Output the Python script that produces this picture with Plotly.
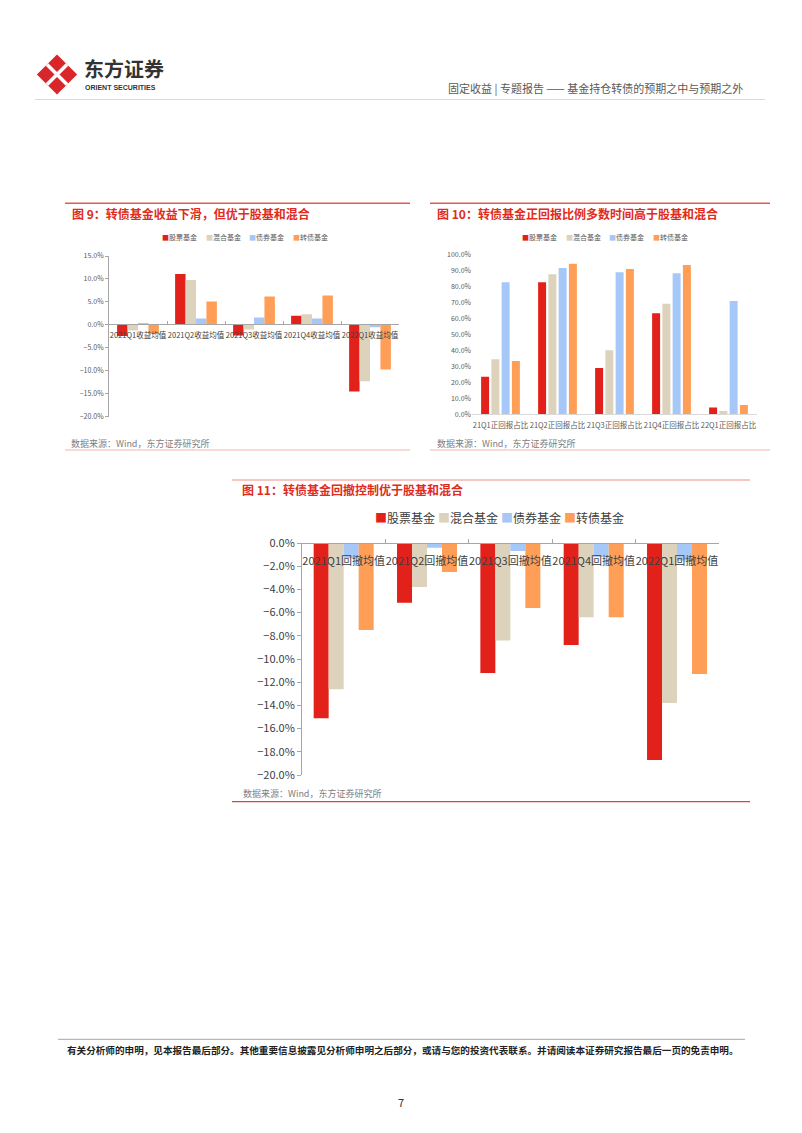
import plotly.graph_objects as go

W, H = 802, 1133
FONT = "Noto Sans CJK SC"


def px(x):
    return x / W


def py(y):
    return 1 - y / H


# ---------------- data ----------------
series = ["股票基金", "混合基金", "债券基金", "转债基金"]
colors = ["#E3211B", "#DDD3BD", "#A6C8F8", "#FF9E57"]

cats9 = ["2021Q1收益均值", "2021Q2收益均值", "2021Q3收益均值", "2021Q4收益均值", "2022Q1收益均值"]
stock9 = [-2.4, 11.1, -2.3, 2.0, -14.5]
mixed9 = [-1.2, 9.8, -1.0, 2.3, -12.3]
bond9 = [0.3, 1.4, 1.6, 1.4, -0.5]
cb9 = [-2.0, 5.1, 6.2, 6.4, -9.7]

cats10 = ["21Q1正回报占比", "21Q2正回报占比", "21Q3正回报占比", "21Q4正回报占比", "22Q1正回报占比"]
stock10 = [23.6, 82.9, 29.1, 63.4, 4.2]
mixed10 = [34.5, 87.9, 40.2, 69.4, 2.1]
bond10 = [82.9, 91.8, 89.1, 88.5, 71.1]
cb10 = [33.5, 94.5, 91.2, 93.7, 5.8]

cats11 = ["2021Q1回撤均值", "2021Q2回撤均值", "2021Q3回撤均值", "2021Q4回撤均值", "2022Q1回撤均值"]
stock11 = [-15.1, -5.15, -11.2, -8.8, -18.7]
mixed11 = [-12.6, -3.8, -8.4, -6.4, -13.8]
bond11 = [-1.3, -0.4, -0.7, -1.2, -1.5]
cb11 = [-7.5, -2.5, -5.6, -6.4, -11.3]

title9 = "图 9：转债基金收益下滑，但优于股基和混合"
title10 = "图 10：转债基金正回报比例多数时间高于股基和混合"
title11 = "图 11：转债基金回撤控制优于股基和混合"
source = "数据来源：Wind，东方证券研究所"
header_right = "固定收益 | 专题报告 —— 基金持仓转债的预期之中与预期之外"
footer = "有关分析师的申明，见本报告最后部分。其他重要信息披露见分析师申明之后部分，或请与您的投资代表联系。并请阅读本证券研究报告最后一页的免责申明。"

fig = go.Figure()


def add_bars(vals_list, cats, xa, ya, offsets=None, width=None):
    for i, (name, vals) in enumerate(zip(series, vals_list)):
        kw = {}
        if offsets is not None:
            kw = dict(offset=offsets[i], width=width)
        fig.add_trace(go.Bar(x=cats, y=vals, name=name,
                             marker=dict(color=colors[i], line=dict(width=0)),
                             xaxis=xa, yaxis=ya, showlegend=False, **kw))


add_bars([stock9, mixed9, bond9, cb9], cats9, "x", "y")
add_bars([stock10, mixed10, bond10, cb10], cats10, "x2", "y2",
         offsets=[-0.34, -0.16, 0.02, 0.20], width=0.14)
add_bars([stock11, mixed11, bond11, cb11], cats11, "x3", "y3")

axis_gray = "#A6A6A6"

layout = dict(
    width=W, height=H, autosize=False,
    margin=dict(l=0, r=0, t=0, b=0, pad=0),
    template="none",
    paper_bgcolor="white", plot_bgcolor="rgba(0,0,0,0)",
    font=dict(family=FONT, color="#404040"),
    barmode="group", bargap=0.28, bargroupgap=0.0,
    showlegend=False,
    # chart 9
    xaxis=dict(domain=[px(109), px(399)], anchor="free", position=py(324.3),
               type="category", showline=True, linecolor=axis_gray, linewidth=1,
               ticks="inside", ticklen=3, tickcolor=axis_gray, tickson="boundaries",
               tickangle=0, ticklabelstandoff=4,
               tickfont=dict(size=7.5, color="#404040"), showgrid=False,
               zeroline=False, automargin=False, fixedrange=True),
    yaxis=dict(domain=[py(416.7), py(256)], anchor="x", range=[-20, 15], dtick=5,
               tickformat=".1f", ticksuffix="%", showline=True, linecolor=axis_gray,
               ticks="outside", ticklen=3, tickcolor=axis_gray,
               tickfont=dict(size=7, color="#595959"), showgrid=False,
               zeroline=False, automargin=False),
    # chart 10
    xaxis2=dict(domain=[px(472), px(757)], anchor="y2", type="category",
                showline=True, linecolor="#D9D9D9", linewidth=1, ticks="",
                tickangle=0, ticklabelstandoff=4,
                tickfont=dict(size=7.5, color="#595959"), showgrid=False,
                zeroline=False, automargin=False),
    yaxis2=dict(domain=[py(414.3), py(255)], anchor="x2", range=[0, 100], dtick=10,
                tickformat=".1f", ticksuffix="%", showline=False, ticks="",
                tickfont=dict(size=7, color="#595959"), showgrid=False,
                zeroline=False, automargin=False),
    # chart 11
    xaxis3=dict(domain=[px(302), px(718.7)], anchor="free", position=py(543),
                type="category", showline=True, linecolor=axis_gray, linewidth=1,
                ticks="inside", ticklen=4, tickcolor=axis_gray, tickson="boundaries",
                tickangle=0, ticklabelstandoff=8,
                tickfont=dict(size=11, color="#404040"), showgrid=False,
                zeroline=False, automargin=False),
    yaxis3=dict(domain=[py(775), py(543)], anchor="x3", range=[-20, 0], dtick=2,
                tickformat=".1f", ticksuffix="%", showline=True, linecolor=axis_gray,
                ticks="outside", ticklen=4, tickcolor=axis_gray,
                tickfont=dict(size=11, color="#404040"), showgrid=False,
                zeroline=False, automargin=False),
)
fig.update_layout(**layout)

ann = []


def txt(x, y, s, size, color, bold=False, xanchor="left", family=FONT):
    if bold:
        s = "<b>" + s + "</b>"
    ann.append(dict(x=px(x), y=py(y), xref="paper", yref="paper", text=s,
                    showarrow=False, xanchor=xanchor, yanchor="middle",
                    font=dict(size=size, color=color, family=family)))


shapes = []


def hline(x0, x1, y, color, width=1):
    shapes.append(dict(type="line", xref="paper", yref="paper",
                       x0=px(x0), x1=px(x1), y0=py(y), y1=py(y),
                       line=dict(color=color, width=width)))


# ---- header ----
cx, cy, r = 57, 74.5, 18
path = "M {},{} L {},{} L {},{} L {},{} Z".format(
    px(cx), py(cy - r), px(cx + r), py(cy), px(cx), py(cy + r), px(cx - r), py(cy))
shapes.append(dict(type="path", xref="paper", yref="paper", path=path,
                   fillcolor="#D9262A", line=dict(color="#D9262A", width=3)))
for dx in (1, -1):
    shapes.append(dict(type="line", xref="paper", yref="paper",
                       x0=px(cx - 10 * dx), y0=py(cy - 10), x1=px(cx + 10 * dx), y1=py(cy + 10),
                       line=dict(color="white", width=3.5)))
txt(82, 68.5, "东方证券", 20, "#333333", bold=True)
txt(83, 87.5, "ORIENT SECURITIES", 7, "#333333", bold=True, family="Arial")
txt(745, 88, header_right, 11, "#595959", xanchor="right")
hline(35, 765, 99.5, "#D9D9D9", 1)

# ---- chart 9 ----
hline(65, 410, 203.3, "#E8585A", 1.5)
txt(70, 213.3, title9, 12, "#E02B20", bold=True)
for i, s in enumerate(series):
    txt(160 + 43.7 * i, 237, '<span style="color:%s">■</span>%s' % (colors[i], s), 7, "#595959")
txt(69, 443.3, source, 9, "#808080")
hline(65, 410, 450, "#F3B5AE", 1.2)

# ---- chart 10 ----
hline(430, 770, 203.3, "#E8585A", 1.5)
txt(435, 213.3, title10, 12, "#E02B20", bold=True)
for i, s in enumerate(series):
    txt(520 + 43.7 * i, 237, '<span style="color:%s">■</span>%s' % (colors[i], s), 7, "#595959")
txt(435, 443.3, source, 9, "#808080")
hline(430, 770, 450, "#F3B5AE", 1.2)

# ---- chart 11 ----
hline(232, 750, 480, "#F3B5AE", 1.5)
txt(240, 490, title11, 12, "#E02B20", bold=True)
for i, s in enumerate(series):
    txt(373 + 63 * i, 517.7, '<span style="color:%s">■</span>%s' % (colors[i], s), 12, "#404040")
txt(241, 793.5, source, 9, "#808080")
hline(232, 750, 801.7, "#E0433B", 1.2)

# ---- footer ----
hline(58, 745, 1039.3, "#A6A6A6", 1)
txt(65, 1049.5, footer, 9.6, "#222222", bold=True)
txt(401, 1102, "7", 11, "#333333", xanchor="center")

fig.update_layout(annotations=ann, shapes=shapes)
fig.write_html("out.html")
